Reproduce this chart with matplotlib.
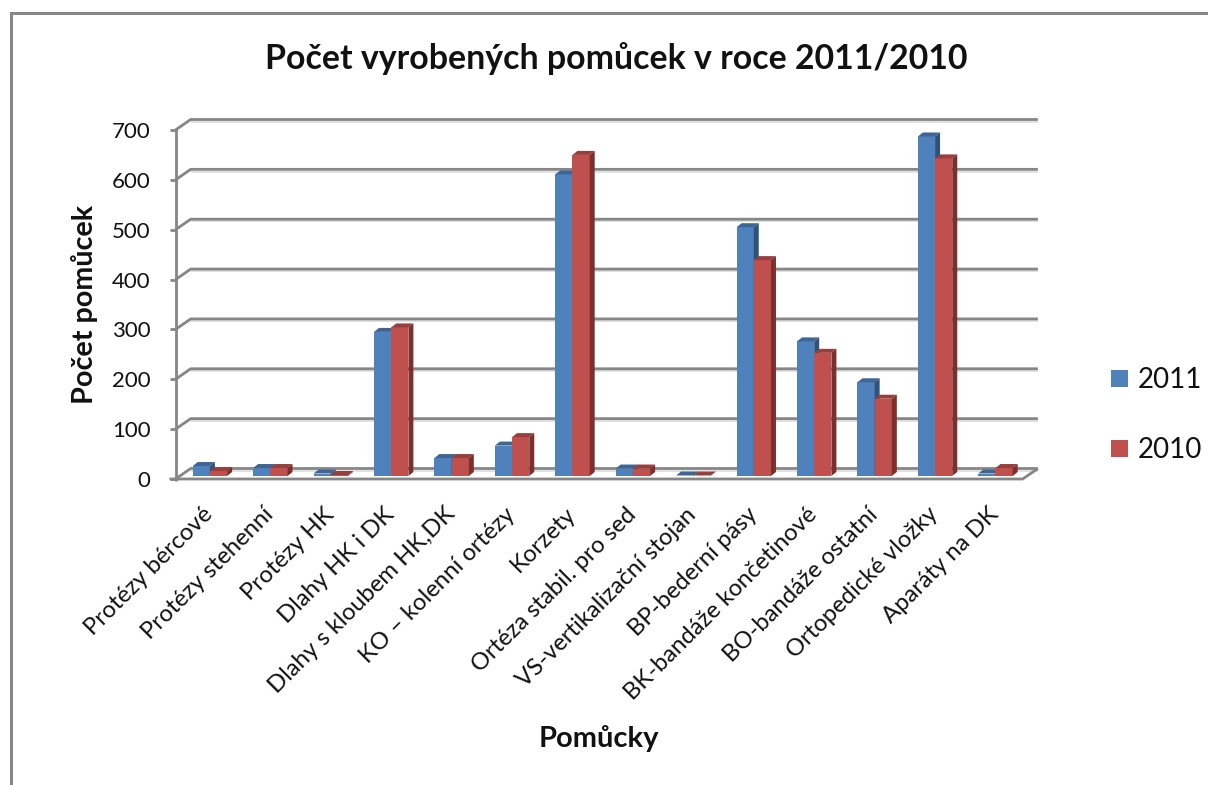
import matplotlib
matplotlib.use("Agg")
import matplotlib.pyplot as plt
from matplotlib.patches import Polygon, Rectangle

plt.rcParams['font.family'] = ['Lato', 'DejaVu Sans']

categories = ["Protézy bércové", "Protézy stehenní", "Protézy HK", "Dlahy HK i DK",
              "Dlahy s kloubem HK,DK", "KO – kolenní ortézy", "Korzety",
              "Ortéza stabil. pro sed", "VS-vertikalizační stojan", "BP-bederní pásy",
              "BK-bandáže končetinové", "BO-bandáže ostatní", "Ortopedické vložky", "Aparáty na DK"]
values_2011 = [20, 16, 5, 289, 36, 61, 605, 15, 1, 499, 270, 188, 681, 5]
values_2010 = [10, 16, 2, 298, 36, 78, 644, 15, 1, 433, 247, 155, 637, 16]
y_ticks = [0, 100, 200, 300, 400, 500, 600, 700]

W, H = 1208, 785
X0, X1, Y0, Y700 = 175.5, 1021.5, 479.0, 130.0
fig = plt.figure(figsize=(W / 100, H / 100), dpi=100, facecolor='white')
ax = fig.add_axes([X0 / W, 1 - Y0 / H, (X1 - X0) / W, (Y0 - Y700) / H])
ax.set_xlim(0, len(categories))
ax.set_ylim(0, 700)
ax.axis('off')

ux = (X1 - X0) / len(categories)   # px per category
uy = (Y0 - Y700) / 700             # px per value
wall_dx, wall_dy = 15.2 / ux, 10.5 / uy
bar_dx, bar_dy = 4.2 / ux, 3.0 / uy
depth_dx, depth_dy = 5.0 / ux, 4.0 / uy
bar_w = 17.2 / ux
front_end = len(categories) + 1.2 / ux

GRID = '#868686'
SHADOW = '#DCDCDC'
lw = 2.8 * 72 / 100
for t in y_ticks:
    ax.plot([wall_dx, front_end + wall_dx], [t + wall_dy - 2.2 / uy] * 2,
            color=SHADOW, lw=1.2, clip_on=False, solid_capstyle='butt', zorder=0.5)
    ax.plot([0, wall_dx, front_end + wall_dx], [t, t + wall_dy, t + wall_dy],
            color=GRID, lw=lw, clip_on=False, solid_joinstyle='miter', solid_capstyle='butt', zorder=1)
    ax.plot([-6 / ux, 0], [t, t], color=GRID, lw=lw, clip_on=False, solid_capstyle='butt', zorder=1)
ax.plot([0, 0], [-1.5 / uy, 700 + 1.5 / uy], color=GRID, lw=lw, clip_on=False, solid_capstyle='butt', zorder=1)
ax.plot([-6 / ux, front_end, front_end + wall_dx],
        [0, 0, wall_dy], color=GRID, lw=lw, clip_on=False, solid_capstyle='butt', zorder=1)


def bar3d(x, v, front, top, side, z):
    x = x + bar_dx
    b = bar_dy
    ax.add_patch(Rectangle((x, b), bar_w, v, fc=front, ec='none', zorder=z, clip_on=False))
    ax.add_patch(Polygon([(x, b + v), (x + depth_dx, b + v + depth_dy),
                          (x + bar_w + depth_dx, b + v + depth_dy), (x + bar_w, b + v)],
                         fc=top, ec='none', zorder=z, clip_on=False))
    ax.add_patch(Polygon([(x + bar_w, b), (x + bar_w + depth_dx, b + depth_dy),
                          (x + bar_w + depth_dx, b + v + depth_dy), (x + bar_w, b + v)],
                         fc=side, ec='none', zorder=z, clip_on=False))


for i, (a, c) in enumerate(zip(values_2011, values_2010)):
    cx = i + 0.5
    bar3d(cx - bar_w, a, '#4F81BD', '#3E6593', '#30527A', 3 + i * 0.01)
    bar3d(cx, c, '#C0504D', '#96403D', '#7C302E', 3.005 + i * 0.01)

TXT = '#111111'
for t in y_ticks:
    ax.text(-25 / ux, t - 2 / uy, str(t), ha='right', va='center', fontsize=16, color=TXT, clip_on=False)

for i, name in enumerate(categories):
    ax.annotate(name, xy=(i + 0.5, 0), xytext=(4, -32), textcoords='offset pixels',
                rotation=45, rotation_mode='anchor', ha='right', va='center',
                fontsize=17.2, color=TXT, annotation_clip=False)

fig.text(616 / W, 1 - 59 / H, "Počet vyrobených pomůcek v roce 2011/2010", ha='center', va='center',
         fontsize=24.4, fontweight='bold', color=TXT)
fig.text(84 / W, 1 - 304.5 / H, "Počet pomůcek", rotation=90, ha='center', va='center',
         fontsize=20.7, fontweight='bold', color=TXT)
fig.text(599 / W, 1 - 739 / H, "Pomůcky", ha='center', va='center',
         fontsize=21, fontweight='bold', color=TXT)

# legend
for label, color, yy in [("2011", '#4F81BD', 378), ("2010", '#C0504D', 448)]:
    fig.patches.append(Rectangle((1111 / W, 1 - (yy + 8.5) / H), 17 / W, 17 / H, fc=color, ec='none',
                                 transform=fig.transFigure))
    fig.text(1138 / W, 1 - (yy + 1.5) / H, label, ha='left', va='center', fontsize=20, color=TXT)

# outer frame
fig.add_artist(plt.Line2D([10.5 / W, 10.5 / W, 1], [0, 1 - 12.5 / H, 1 - 12.5 / H], color=GRID, lw=3 * 72 / 100,
                          solid_joinstyle='miter', transform=fig.transFigure))
fig.savefig('out.png', dpi=100, facecolor='white')
